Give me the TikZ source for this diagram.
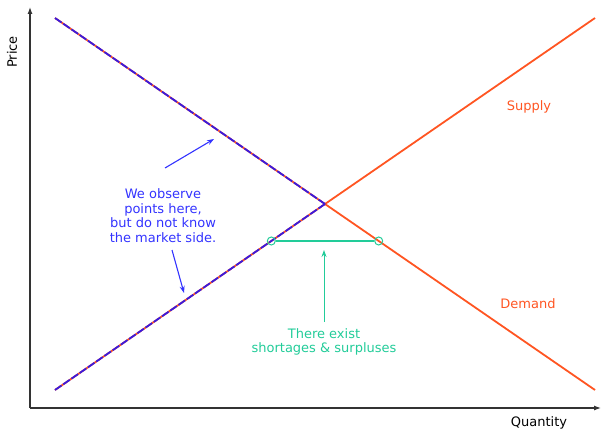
\documentclass[tikz,border=0pt]{standalone}
\usepackage{fontspec}
\setmainfont{DejaVu Sans}
\usetikzlibrary{arrows.meta}
\definecolor{curveor}{HTML}{FF5522}
\definecolor{obsblue}{HTML}{3A1ADD}
\definecolor{txtblue}{HTML}{3333FF}
\definecolor{gapgreen}{HTML}{22CC99}
\definecolor{axisgray}{HTML}{333333}
\begin{document}
\begin{tikzpicture}[x=1pt,y=-1pt,
  axisline/.style={draw=axisgray,line width=1.2pt,-{Latex[length=7pt,width=5pt]}},
  curve/.style={draw=curveor,line width=1.8pt},
  obsline/.style={draw=obsblue,line width=1.8pt,dash pattern=on 8pt off 2pt},
  bluearrow/.style={draw=txtblue,line width=1.1pt,-{Stealth[length=7pt,width=5pt]}},
  greenarrow/.style={draw=gapgreen,line width=1pt,-{Stealth[length=7pt,width=5pt]}},
  lab/.style={font=\fontsize{13}{14.5}\selectfont,align=center,inner sep=0pt},
  endcircle/.style={circle,draw=gapgreen,line width=1pt,minimum size=8pt,inner sep=0pt}]
\useasboundingbox (0,0) rectangle (601,433);
% axes
\coordinate (O) at (30,408);
\coordinate (Ytop) at (30,7);
\coordinate (Xend) at (601,408);
\draw[axisline] (O) -- (Ytop);
\draw[axisline] (O) -- (Xend);
\node[lab,rotate=90] (price) at (12,52) {Price};
\node[lab] (qty) at (539,423) {Quantity};
% curves
\coordinate (D1) at (55,18);
\coordinate (D2) at (595,390);
\coordinate (S1) at (55,390);
\coordinate (S2) at (595,18);
\coordinate (E) at (325,204);
\draw[curve] (D1) -- (D2);
\draw[curve] (S1) -- (S2);
\draw[obsline] (D1) -- (E);
\draw[obsline] (S1) -- (E);
\node[lab,text=curveor] (supply) at (529,107) {Supply};
\node[lab,text=curveor] (demand) at (528,304) {Demand};
% shortage / surplus
\node[endcircle] (g1) at (271.3,241) {};
\node[endcircle] (g2) at (378.7,241) {};
\draw[draw=gapgreen,line width=1.6pt] (g1) -- (g2);
\node[lab,text=gapgreen] (gaptext) at (324,342) {There exist\\shortages \& surpluses};
\coordinate (ga) at (324,322);
\coordinate (gb) at (324,250);
\draw[greenarrow] (ga) -- (gb);
% observation note
\node[lab,text=txtblue] (obs) at (163,215.5) {We observe\\points here,\\but do not know\\the market side.};
\coordinate (b1s) at (165,168);
\coordinate (b1e) at (214,139);
\coordinate (b2s) at (172,250);
\coordinate (b2e) at (184,293);
\draw[bluearrow] (b1s) -- (b1e);
\draw[bluearrow] (b2s) -- (b2e);
\end{tikzpicture}
\end{document}
